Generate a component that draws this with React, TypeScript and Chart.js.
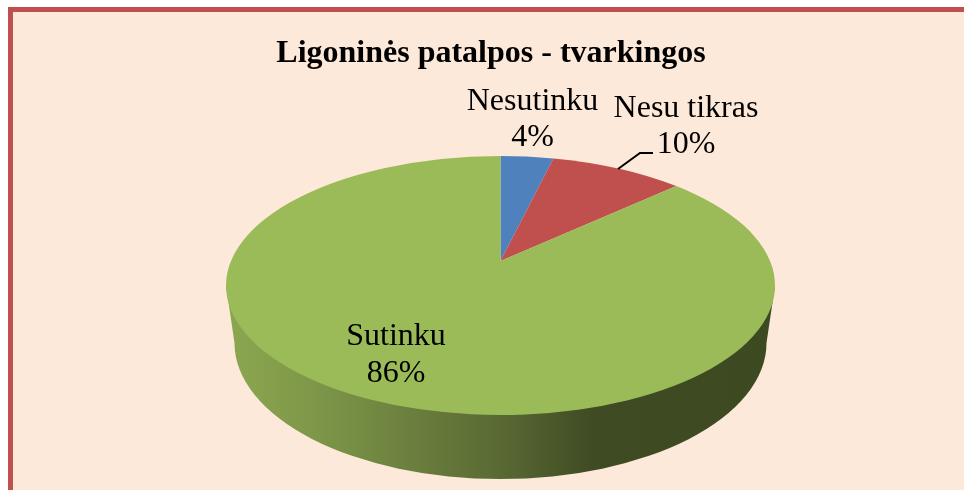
import React, { useEffect, useRef } from "react";
import { Chart, registerables } from "chart.js";

Chart.register(...registerables);

const categories = ["Nesutinku", "Nesu tikras", "Sutinku"];
const shares = [4, 10, 86];
const sliceColors = ["#4f81bd", "#c0504d", "#9bbb59"];
const chartTitle = "Ligoninės patalpos - tvarkingos";

const labelCenters = [
  { x: 532.5, y1: 102, y2: 138 },
  { x: 686, y1: 109, y2: 145 },
  { x: 396, y1: 337, y2: 374 },
];
const leader = [
  [618, 169],
  [640, 153],
  [653, 153],
];

const top = { cx: 500.5, cy: 285.5, rx: 274.5, ry: 129.5, vy: 261, k: 0.77 };
const base = { cx: 500.5, cy: 343, rx: 266, ry: 136 };
const FONT = '"Liberation Serif", "Times New Roman", serif';

// Chart angle (from 12 o'clock) → ellipse parameter, foreshortened by the view tilt.
const rimParam = (a: number) =>
  2 * Math.atan2(top.k * Math.sin(a / 2), Math.cos(a / 2));

const pie3d = {
  id: "pie3d",
  beforeDatasetsDraw(chart: any) {
    const ctx: CanvasRenderingContext2D = chart.ctx;
    const arcs = chart.getDatasetMeta(0).data;

    // Side wall
    const g = ctx.createLinearGradient(226, 0, 775, 0);
    g.addColorStop(0, "#8ca750");
    g.addColorStop(0.16, "#7e9749");
    g.addColorStop(0.5, "#596933");
    g.addColorStop(0.67, "#3f4b23");
    g.addColorStop(1, "#3d4921");
    ctx.save();
    ctx.beginPath();
    ctx.moveTo(top.cx + top.rx, top.cy);
    ctx.lineTo(base.cx + base.rx, base.cy);
    ctx.ellipse(base.cx, base.cy, base.rx, base.ry, 0, 0, Math.PI);
    ctx.lineTo(top.cx - top.rx, top.cy);
    ctx.closePath();
    ctx.fillStyle = g;
    ctx.fill();

    // Top face, one slice per data element
    arcs.forEach((arc: any, i: number) => {
      const a0 = arc.startAngle + Math.PI / 2;
      const a1 = arc.endAngle + Math.PI / 2;
      const t0 = rimParam(a0) - Math.PI / 2;
      const t1 = rimParam(a1) - Math.PI / 2;
      ctx.beginPath();
      ctx.moveTo(top.cx, top.vy);
      ctx.ellipse(top.cx, top.cy, top.rx, top.ry, 0, t0, t1);
      ctx.closePath();
      ctx.fillStyle = sliceColors[i];
      ctx.fill();
    });
    ctx.restore();
    return false;
  },
  afterDraw(chart: any) {
    const ctx: CanvasRenderingContext2D = chart.ctx;
    ctx.save();
    ctx.strokeStyle = "#000";
    ctx.lineWidth = 2;
    ctx.beginPath();
    leader.forEach(([x, y], i) => (i ? ctx.lineTo(x, y) : ctx.moveTo(x, y)));
    ctx.stroke();

    ctx.fillStyle = "#000";
    ctx.font = `32px ${FONT}`;
    ctx.textAlign = "center";
    ctx.textBaseline = "middle";
    categories.forEach((name, i) => {
      const p = labelCenters[i];
      ctx.fillText(name, p.x, p.y1);
      ctx.fillText(`${shares[i]}%`, p.x, p.y2);
    });
    ctx.restore();
  },
};

export default function App() {
  const ref = useRef<HTMLCanvasElement>(null);
  useEffect(() => {
    const chart = new Chart(ref.current!, {
      type: "pie",
      data: {
        labels: categories,
        datasets: [{ data: shares, backgroundColor: sliceColors, borderWidth: 0 }],
      },
      options: {
        animation: false,
        responsive: false,
        layout: { padding: { left: 18 } },
        plugins: {
          legend: { display: false },
          tooltip: { enabled: false },
          title: {
            display: true,
            text: chartTitle,
            color: "#000",
            font: { family: FONT, size: 32, weight: "bold" },
            padding: { top: 35, bottom: 10 },
          },
        },
      },
      plugins: [pie3d],
    } as any);
    return () => chart.destroy();
  }, []);
  return (
    <div style={{ position: "fixed", inset: 0, background: "#fff", overflow: "hidden" }}>
      <div
        style={{
          position: "absolute",
          left: 8,
          top: 7,
          right: 0,
          bottom: 0,
          boxSizing: "border-box",
          background: "#fde9d9",
          borderTop: "5px solid #c0504d",
          borderLeft: "5px solid #c0504d",
        }}
      />
      <canvas
        ref={ref}
        width={964}
        height={490}
        style={{ position: "absolute", left: 0, top: 0, width: 964, height: 490 }}
      />
    </div>
  );
}
